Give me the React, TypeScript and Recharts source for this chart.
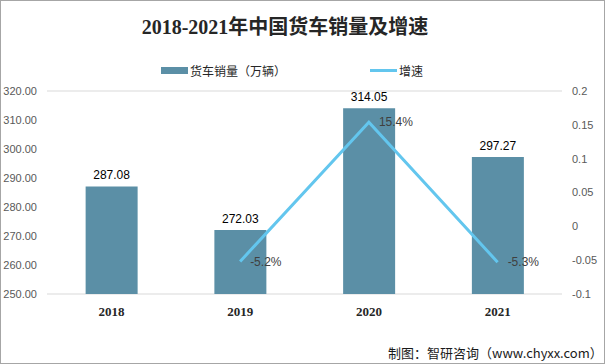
import React from "react";
import { ComposedChart, Bar, Line, XAxis, YAxis, CartesianGrid, LabelList } from "recharts";

const years = ["2018", "2019", "2020", "2021"];
const sales = [287.08, 272.03, 314.05, 297.27];
const growth: (number | null)[] = [null, -0.052, 0.154, -0.053];
const leftTicks = [250, 260, 270, 280, 290, 300, 310, 320];
const rightTicks = [-0.1, -0.05, 0, 0.05, 0.1, 0.15, 0.2];

const data = years.map((y, i) => ({ year: y, sales: sales[i], growth: growth[i] }));

const BAR = "#5B8FA6";
const LINE = "#63C6EE";

export default function App() {
  return (
    <div style={{ position: "fixed", left: 0, top: 0, width: 605, height: 364, background: "#fff", fontFamily: "'Liberation Sans', 'Noto Sans CJK SC', sans-serif" }}>
      <div style={{ position: "absolute", left: 0, top: 0, width: 605, height: 364, boxSizing: "border-box", border: "1px solid #a6a6a6", pointerEvents: "none", zIndex: 2 }} />
      <div style={{ position: "absolute", left: 0, top: 11, width: 570, textAlign: "center", fontSize: 20, fontWeight: "bold", color: "#262626", fontFamily: "'Liberation Serif', 'Noto Sans CJK SC', serif" }}>
        2018-2021年中国货车销量及增速
      </div>
      <div style={{ position: "absolute", top: 62, left: 161, display: "flex", alignItems: "center", fontSize: 12, color: "#262626", fontFamily: "'Noto Sans CJK SC', sans-serif" }}>
        <span style={{ display: "inline-block", width: 27, height: 7, background: BAR, marginRight: 2 }} />
        <span>货车销量（万辆）</span>
      </div>
      <div style={{ position: "absolute", top: 62, left: 370, display: "flex", alignItems: "center", fontSize: 12, color: "#262626", fontFamily: "'Noto Sans CJK SC', sans-serif" }}>
        <span style={{ display: "inline-block", width: 27, height: 3, background: LINE, marginRight: 2 }} />
        <span>增速</span>
      </div>
      <div style={{ position: "absolute", top: 343, left: 388, fontSize: 13, color: "#1a1a1a", fontFamily: "'Noto Sans CJK SC', sans-serif", whiteSpace: "nowrap" }}>
        制图：智研咨询（www.chyxx.com）
      </div>
      <div style={{ position: "absolute", left: 0, top: 0 }}>
        <ComposedChart width={605} height={364} data={data} margin={{ top: 91, right: 0, bottom: 40, left: 0 }} barCategoryGap="30%">
          <CartesianGrid vertical={false} stroke="#d9d9d9" />
          <XAxis dataKey="year" axisLine={false} tickLine={false} tickSize={0} tickMargin={13} height={30}
            tick={{ fontSize: 13, fontWeight: "bold", fill: "#262626", fontFamily: "'Liberation Serif', serif" }} />
          <YAxis yAxisId="left" domain={[250, 320]} ticks={leftTicks} width={47} axisLine={false} tickLine={false} tickSize={0} tickMargin={10}
            tickFormatter={(v: number) => v.toFixed(2)} tick={{ fontSize: 11, fill: "#595959" }} />
          <YAxis yAxisId="right" orientation="right" domain={[-0.1, 0.2]} ticks={rightTicks} width={43} axisLine={false} tickLine={false} tickSize={0} tickMargin={10}
            tick={{ fontSize: 11, fill: "#595959", textAnchor: "start" }} />
          <Bar yAxisId="left" dataKey="sales" fill={BAR} isAnimationActive={false}>
            <LabelList dataKey="sales" position="top" offset={7} formatter={(v: number) => v.toFixed(2)} style={{ fontSize: 12, fill: "#000" }} />
          </Bar>
          <Line yAxisId="right" dataKey="growth" stroke={LINE} strokeWidth={3} dot={false} activeDot={false} isAnimationActive={false}>
            <LabelList dataKey="growth" position="right" offset={10}
              formatter={(v: any) => (v == null ? "" : (v * 100).toFixed(1) + "%")} style={{ fontSize: 12, fill: "#404040" }} />
          </Line>
        </ComposedChart>
      </div>
    </div>
  );
}
